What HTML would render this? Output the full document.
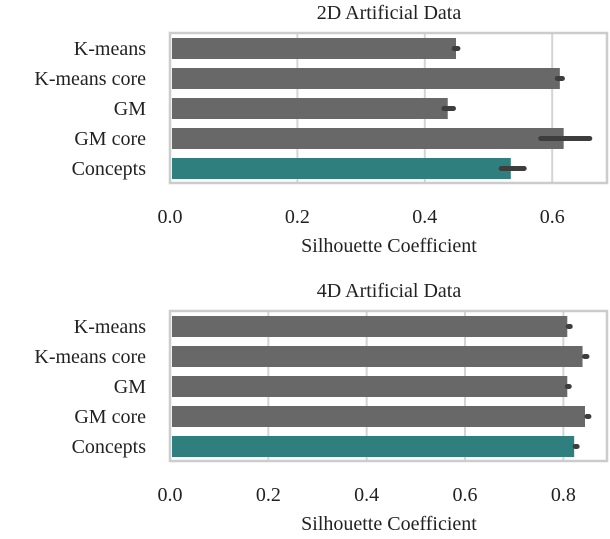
<!DOCTYPE html>
<html><head><meta charset="utf-8"><style>
body{margin:0;background:#fff;}
svg text{font-family:"Liberation Serif",serif;fill:#222;}
</style></head><body>
<svg width="610" height="534" viewBox="0 0 610 534" xmlns="http://www.w3.org/2000/svg">
<g id="p1"></g>
<g id="p2"></g>
</svg>
<script>
const categories = ["K-means","K-means core","GM","GM core","Concepts"];
const values2d = [0.449,0.612,0.436,0.618,0.535];
const errLo2d = [0.446,0.608,0.430,0.582,0.520];
const errHi2d = [0.452,0.616,0.445,0.659,0.556];
const ticks2d = [0.0,0.2,0.4,0.6];
const values4d = [0.808,0.839,0.808,0.844,0.822];
const errLo4d = [0.810,0.843,0.808,0.848,0.824];
const errHi4d = [0.814,0.848,0.812,0.852,0.828];
const ticks4d = [0.0,0.2,0.4,0.6,0.8];
const NS="http://www.w3.org/2000/svg";
function mk(parent,tag,attrs){const e=document.createElementNS(NS,tag);for(const k in attrs)e.setAttribute(k,attrs[k]);parent.appendChild(e);return e;}
function panel(g,title,vals,lo,hi,ticks,cfg){
  const x=v=>cfg.x0+v*cfg.scale;
  const y=i=>cfg.top+5+i*30;
  const t=mk(g,'text',{x:389,y:cfg.top-14,'font-size':20,'text-anchor':'middle'});t.textContent=title;
  
  
  ticks.forEach(v=>{
    const l=mk(g,'line',{x1:x(v),x2:x(v),y1:cfg.top,y2:cfg.top+150,stroke:'#d4d4d4','stroke-width':2});
    
    
    const tt=mk(g,'text',{x:x(v),y:cfg.top+190,'font-size':20,'text-anchor':'middle'});tt.textContent=v.toFixed(1);
    
    
  });
  vals.forEach((v,i)=>{
    const r=mk(g,'rect',{x:cfg.x0+2,y:y(i),width:x(v)-cfg.x0-2,height:21,fill:i==4?'#2e7f7e':'#686868'});
    
    
    const e=mk(g,'line',{x1:x(lo[i]),x2:x(hi[i]),y1:y(i)+10.5,y2:y(i)+10.5,stroke:'#3d3d3d','stroke-width':5,'stroke-linecap':'round'});
    
    
    const c=mk(g,'text',{x:146,y:y(i)+17,'font-size':20,'text-anchor':'end'});c.textContent=categories[i];
    
    
  });
  const f=mk(g,'rect',{x:cfg.x0,y:cfg.top,width:437,height:150,fill:'none',stroke:'#cccccc','stroke-width':2.5});
  
  
  const xl=mk(g,'text',{x:389,y:cfg.top+219,'font-size':20,'text-anchor':'middle'});xl.textContent='Silhouette Coefficient';
  
  
}
panel(document.getElementById('p1'),'2D Artificial Data',values2d,errLo2d,errHi2d,ticks2d,{x0:170,scale:637,top:33});
panel(document.getElementById('p2'),'4D Artificial Data',values4d,errLo4d,errHi4d,ticks4d,{x0:170,scale:491.7,top:311});
</script>
</body></html>
